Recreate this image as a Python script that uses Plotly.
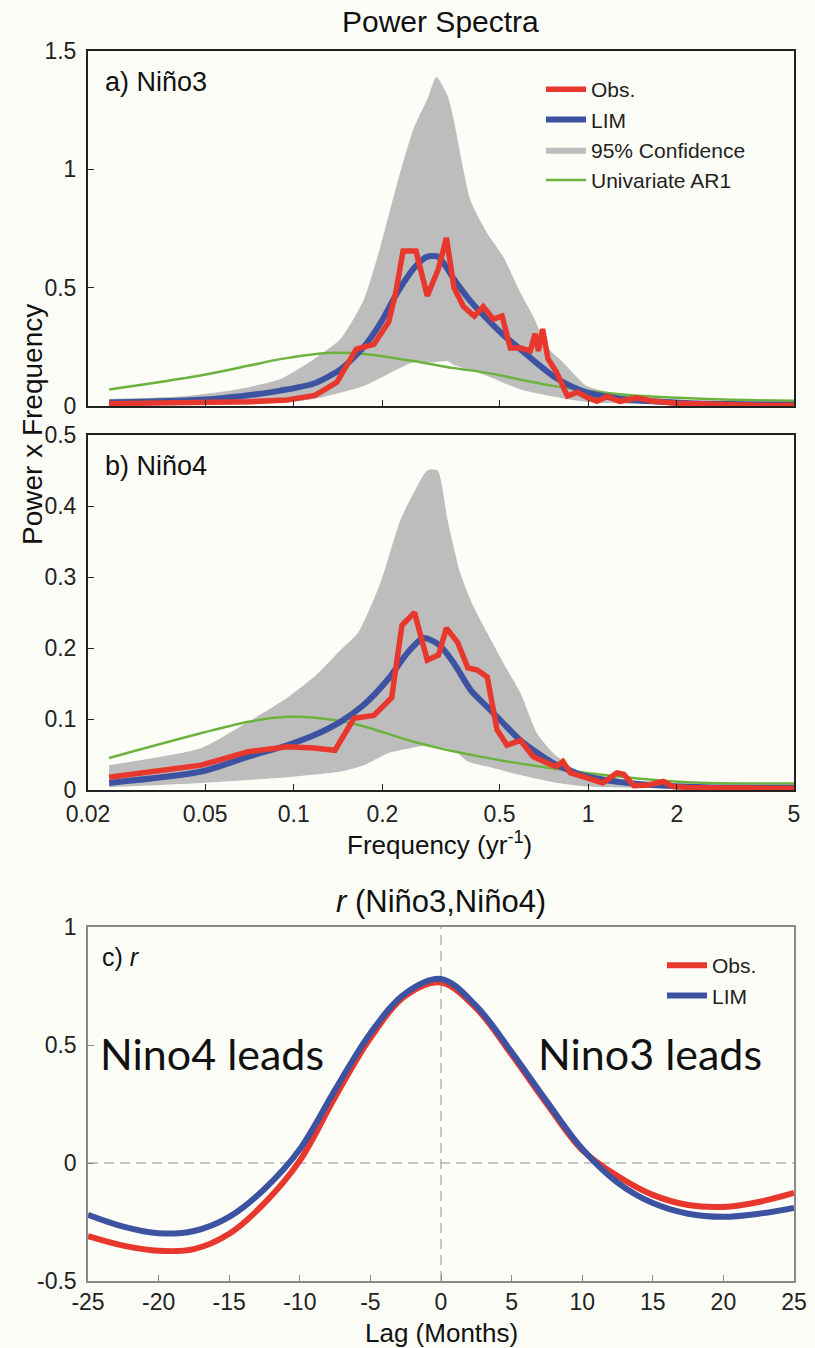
import plotly.graph_objects as go
import math

W, H = 815, 1348

# ---------------- data: panel a (Nino3) ----------------
A_OBS_F = [0.0236, 0.047, 0.07, 0.095, 0.118, 0.14, 0.163, 0.187, 0.21, 0.222, 0.235, 0.26, 0.284, 0.31,
           0.33, 0.35, 0.377, 0.41, 0.44, 0.476, 0.51, 0.544, 0.59, 0.636, 0.66, 0.677, 0.70, 0.73, 0.78,
           0.85, 0.92, 0.99, 1.07, 1.16, 1.28, 1.46, 1.66, 2.0, 2.5, 3.0, 3.5, 4.0, 5.0]
A_OBS_V = [0.01, 0.012, 0.018, 0.025, 0.045, 0.10, 0.24, 0.26, 0.355, 0.48, 0.655, 0.655, 0.465, 0.58,
           0.71, 0.50, 0.42, 0.38, 0.42, 0.367, 0.38, 0.245, 0.245, 0.233, 0.305, 0.233, 0.325, 0.20, 0.143,
           0.042, 0.058, 0.037, 0.02, 0.04, 0.02, 0.035, 0.02, 0.012, 0.008, 0.003, 0.005, 0.002, 0.003]

A_LIM_F = [0.0236, 0.035, 0.0535, 0.07, 0.09, 0.117, 0.144, 0.173, 0.197, 0.225, 0.255, 0.283, 0.31,
           0.348, 0.40, 0.454, 0.515, 0.588, 0.67, 0.76, 0.87, 1.0, 1.12, 1.3, 1.66, 2.2, 3.0, 4.0, 5.0]
A_LIM_V = [0.015, 0.02, 0.03, 0.045, 0.065, 0.095, 0.155, 0.25, 0.35, 0.48, 0.58, 0.63, 0.63,
           0.54, 0.44, 0.367, 0.30, 0.24, 0.18, 0.127, 0.085, 0.055, 0.042, 0.03, 0.02, 0.012, 0.008, 0.006, 0.005]

A_UP_F = [0.0236, 0.041, 0.061, 0.09, 0.117, 0.144, 0.173, 0.197, 0.225, 0.255, 0.285, 0.305, 0.333,
          0.348, 0.398, 0.454, 0.515, 0.588, 0.65, 0.725, 0.82, 0.99, 1.28, 1.66, 2.5, 3.5, 5.0]
A_UP_V = [0.03, 0.04, 0.065, 0.114, 0.198, 0.283, 0.45, 0.675, 0.945, 1.17, 1.30, 1.39, 1.31,
          1.22, 0.87, 0.73, 0.63, 0.48, 0.38, 0.25, 0.185, 0.085, 0.05, 0.03, 0.02, 0.015, 0.01]
A_LO_F = [0.0236, 0.05, 0.08, 0.117, 0.173, 0.225, 0.255, 0.30, 0.333, 0.348, 0.454, 0.588, 0.76, 0.99,
          1.5, 2.5, 5.0]
A_LO_V = [0.003, 0.005, 0.01, 0.03, 0.085, 0.155, 0.185, 0.185, 0.19, 0.175, 0.127, 0.07, 0.04, 0.017,
          0.008, 0.004, 0.002]

A_AR1_F = [0.0236, 0.047, 0.07, 0.09, 0.13, 0.173, 0.255, 0.35, 0.454, 0.76, 1.28, 2.2, 3.5, 5.0]
A_AR1_V = [0.07, 0.127, 0.17, 0.198, 0.224, 0.22, 0.19, 0.16, 0.14, 0.085, 0.05, 0.033, 0.025, 0.022]

# ---------------- data: panel b (Nino4) ----------------
B_OBS_F = [0.0236, 0.0485, 0.07, 0.095, 0.117, 0.138, 0.16, 0.187, 0.215, 0.233, 0.257, 0.284, 0.31,
           0.33, 0.36, 0.39, 0.42, 0.454, 0.49, 0.53, 0.588, 0.65, 0.725, 0.78, 0.82, 0.87, 0.99, 1.12,
           1.25, 1.32, 1.43, 1.6, 1.8, 1.94, 2.3, 3.0, 4.0, 5.0]
B_OBS_V = [0.018, 0.035, 0.054, 0.061, 0.059, 0.056, 0.101, 0.105, 0.13, 0.232, 0.25, 0.183, 0.19,
           0.228, 0.208, 0.172, 0.169, 0.159, 0.085, 0.063, 0.07, 0.047, 0.038, 0.033, 0.04, 0.024, 0.017,
           0.01, 0.024, 0.022, 0.006, 0.007, 0.012, 0.005, 0.003, 0.002, 0.002, 0.002]

B_LIM_F = [0.0236, 0.0485, 0.07, 0.095, 0.117, 0.144, 0.173, 0.21, 0.243, 0.276, 0.31, 0.348, 0.40,
           0.454, 0.515, 0.588, 0.76, 0.99, 1.3, 1.66, 2.5, 5.0]
B_LIM_V = [0.01, 0.026, 0.047, 0.063, 0.077, 0.096, 0.12, 0.157, 0.193, 0.214, 0.205, 0.18, 0.14,
           0.117, 0.094, 0.07, 0.038, 0.019, 0.011, 0.007, 0.004, 0.003]

B_UP_F = [0.0236, 0.0485, 0.07, 0.095, 0.117, 0.144, 0.165, 0.197, 0.23, 0.255, 0.284, 0.308, 0.333,
          0.368, 0.408, 0.454, 0.515, 0.588, 0.67, 0.76, 0.87, 0.99, 1.28, 2.0, 5.0]
B_UP_V = [0.035, 0.059, 0.096, 0.13, 0.159, 0.197, 0.221, 0.292, 0.38, 0.418, 0.45, 0.45, 0.38,
          0.305, 0.258, 0.221, 0.179, 0.137, 0.08, 0.052, 0.033, 0.021, 0.01, 0.005, 0.003]
B_LO_F = [0.0236, 0.0485, 0.095, 0.144, 0.173, 0.21, 0.25, 0.284, 0.35, 0.39, 0.454, 0.588, 0.76, 0.99,
          2.0, 5.0]
B_LO_V = [0.004, 0.01, 0.018, 0.026, 0.035, 0.052, 0.059, 0.063, 0.056, 0.04, 0.033, 0.021, 0.011, 0.005,
          0.002, 0.001]

B_AR1_F = [0.0236, 0.07, 0.095, 0.117, 0.165, 0.255, 0.43, 0.99, 2.17, 5.0]
B_AR1_V = [0.045, 0.096, 0.103, 0.102, 0.092, 0.068, 0.047, 0.024, 0.011, 0.009]

# ---------------- data: panel c (lag correlation) ----------------
LAGS = [-25, -22.5, -20, -17.5, -15, -12.5, -10, -7.5, -5, -2.5, 0, 2.5, 5, 7.5, 10, 12.5, 15, 17.5, 20, 22.5, 25]
C_OBS = [-0.31, -0.35, -0.372, -0.365, -0.30, -0.17, 0.01, 0.28, 0.53, 0.71, 0.765, 0.655, 0.46, 0.25,
         0.055, -0.055, -0.135, -0.178, -0.186, -0.165, -0.127]
C_LIM = [-0.22, -0.27, -0.298, -0.288, -0.228, -0.11, 0.058, 0.31, 0.55, 0.72, 0.78, 0.665, 0.47, 0.26,
         0.06, -0.083, -0.17, -0.215, -0.228, -0.215, -0.19]

FREQ_TICKS = [0.02, 0.05, 0.1, 0.2, 0.5, 1, 2, 5]
FREQ_TICK_LABELS = ["0.02", "0.05", "0.1", "0.2", "0.5", "1", "2", "5"]
A_YTICKS = [0, 0.5, 1, 1.5]
A_YTICK_LABELS = ["0", "0.5", "1", "1.5"]
B_YTICKS = [0, 0.1, 0.2, 0.3, 0.4, 0.5]
B_YTICK_LABELS = ["0", "0.1", "0.2", "0.3", "0.4", "0.5"]
LAG_TICKS = [-25, -20, -15, -10, -5, 0, 5, 10, 15, 20, 25]
LAG_TICK_LABELS = ["-25", "-20", "-15", "-10", "-5", "0", "5", "10", "15", "20", "25"]
C_YTICKS = [-0.5, 0, 0.5, 1]
C_YTICK_LABELS = ["-0.5", "0", "0.5", "1"]

# ---------------- styles ----------------
RED = "#e8372c"
BLUE = "#3d52a1"
GREEN = "#6cb33e"
GRAY = "#bdbdbd"
BG = "#fdfdf8"
FONT = "Liberation Sans, Arial, sans-serif"


def px(x, y):
    return x / W, 1 - y / H


fig = go.Figure()


def spectra_panel(xa, ya, up_f, up_v, lo_f, lo_v, ar_f, ar_v, lim_f, lim_v, obs_f, obs_v, show_leg):
    fig.add_trace(go.Scatter(x=lo_f, y=lo_v, xaxis=xa, yaxis=ya, mode="lines",
                             line=dict(width=0, color=GRAY, shape="spline", smoothing=0.6),
                             showlegend=False, hoverinfo="skip"))
    fig.add_trace(go.Scatter(x=up_f, y=up_v, xaxis=xa, yaxis=ya, mode="lines", fill="tonexty",
                             fillcolor=GRAY, line=dict(width=0, color=GRAY, shape="spline", smoothing=0.6),
                             name="95% Confidence", showlegend=show_leg, legend="legend", legendrank=3))
    fig.add_trace(go.Scatter(x=ar_f, y=ar_v, xaxis=xa, yaxis=ya, mode="lines",
                             line=dict(width=2.5, color=GREEN, shape="spline", smoothing=0.8),
                             name="Univariate AR1", showlegend=show_leg, legend="legend", legendrank=4))
    fig.add_trace(go.Scatter(x=lim_f, y=lim_v, xaxis=xa, yaxis=ya, mode="lines",
                             line=dict(width=6, color=BLUE, shape="spline", smoothing=0.7),
                             name="LIM", showlegend=show_leg, legend="legend", legendrank=2))
    fig.add_trace(go.Scatter(x=obs_f, y=obs_v, xaxis=xa, yaxis=ya, mode="lines",
                             line=dict(width=5.5, color=RED),
                             name="Obs.", showlegend=show_leg, legend="legend", legendrank=1))


spectra_panel("x", "y", A_UP_F, A_UP_V, A_LO_F, A_LO_V, A_AR1_F, A_AR1_V, A_LIM_F, A_LIM_V, A_OBS_F, A_OBS_V, True)
spectra_panel("x2", "y2", B_UP_F, B_UP_V, B_LO_F, B_LO_V, B_AR1_F, B_AR1_V, B_LIM_F, B_LIM_V, B_OBS_F, B_OBS_V, False)

fig.add_trace(go.Scatter(x=LAGS, y=C_OBS, xaxis="x3", yaxis="y3", mode="lines",
                         line=dict(width=6, color=RED, shape="spline", smoothing=1.0),
                         name="Obs.", legend="legend2", legendrank=1))
fig.add_trace(go.Scatter(x=LAGS, y=C_LIM, xaxis="x3", yaxis="y3", mode="lines",
                         line=dict(width=6, color=BLUE, shape="spline", smoothing=1.0),
                         name="LIM", legend="legend2", legendrank=2))

XDOM = [88 / W, 794 / W]
dark_axis = dict(showline=True, linecolor="#222", linewidth=2, mirror=True, ticks="inside", ticklen=6,
                 tickcolor="#222", tickwidth=1.2, showgrid=False, zeroline=False, automargin=False,
                 tickfont=dict(family=FONT, size=23, color="#222"))
gray_axis = dict(showline=True, linecolor="#8a8a8a", linewidth=1.5, mirror=True, ticks="inside", ticklen=6,
                 tickcolor="#8a8a8a", tickwidth=1.2, showgrid=False, zeroline=False, automargin=False,
                 tickfont=dict(family=FONT, size=23, color="#222"))

fig.update_layout(
    width=W, height=H, autosize=False,
    margin=dict(l=0, r=0, t=0, b=0, pad=0, autoexpand=False),
    paper_bgcolor=BG, plot_bgcolor=BG,
    xaxis=dict(dark_axis, type="log", domain=XDOM, range=[math.log10(0.02), math.log10(5)],
               tickvals=FREQ_TICKS, ticktext=FREQ_TICK_LABELS, showticklabels=False, anchor="y"),
    yaxis=dict(dark_axis, domain=[1 - 406 / H, 1 - 51 / H], range=[0, 1.5], tickvals=A_YTICKS,
               ticktext=A_YTICK_LABELS, anchor="x", ticklabelstandoff=5),
    xaxis2=dict(dark_axis, type="log", domain=XDOM, range=[math.log10(0.02), math.log10(5)],
                tickvals=FREQ_TICKS, ticktext=FREQ_TICK_LABELS, anchor="y2", ticklabelstandoff=2),
    yaxis2=dict(dark_axis, domain=[1 - 790 / H, 1 - 435 / H], range=[0, 0.5], tickvals=B_YTICKS,
                ticktext=B_YTICK_LABELS, anchor="x2", ticklabelstandoff=5),
    xaxis3=dict(gray_axis, domain=XDOM, range=[-25, 25], tickvals=LAG_TICKS, ticktext=LAG_TICK_LABELS,
                anchor="y3", ticklabelstandoff=0),
    yaxis3=dict(gray_axis, domain=[1 - 1281 / H, 1 - 927 / H], range=[-0.5, 1], tickvals=C_YTICKS,
                ticktext=C_YTICK_LABELS, anchor="x3", ticklabelstandoff=5),
    legend=dict(x=px(541, 0)[0], y=px(0, 69)[1], xanchor="left", yanchor="top",
                bgcolor="rgba(0,0,0,0)", font=dict(family=FONT, size=21, color="#222"),
                traceorder="normal", itemwidth=40, tracegroupgap=0),
    legend2=dict(x=px(662, 0)[0], y=px(0, 945)[1], xanchor="left", yanchor="top",
                 bgcolor="rgba(0,0,0,0)", font=dict(family=FONT, size=21, color="#222"),
                 traceorder="normal", itemwidth=40),
    showlegend=True,
)

# dashed reference lines in panel c
fig.add_shape(type="line", xref="x3 domain", x0=0, x1=1, yref="y3", y0=0, y1=0,
              line=dict(color="#b5b5b5", width=1.5, dash="10px,6px"), layer="below")
fig.add_shape(type="line", xref="x3", x0=0, x1=0, yref="y3 domain", y0=0, y1=1,
              line=dict(color="#b5b5b5", width=1.5, dash="10px,6px"), layer="below")

ann = []


def text(x, y, s, size, xanchor="center", family=FONT, angle=0):
    xx, yy = px(x, y)
    ann.append(dict(x=xx, y=yy, xref="paper", yref="paper", text=s, showarrow=False, xanchor=xanchor,
                    yanchor="middle", textangle=angle, font=dict(family=family, size=size, color="#111")))


text(440, 22, "Power Spectra", 30)
text(103, 82, "a) Niño3", 27, "left")
text(103, 466, "b) Niño4", 27, "left")
text(32, 425, "Power x Frequency", 28, angle=-90)
text(439, 843, "Frequency (yr<sup>-1</sup>)", 26)
text(441, 902, "<i>r</i> (Niño3,Niño4)", 31)
text(100, 957, "c) <i>r</i>", 25, "left")
text(441, 1333, "Lag (Months)", 26)
text(98, 1053, "Nino4 leads", 43, "left", family="Lato, Carlito, sans-serif")
text(536, 1053, "Nino3 leads", 43, "left", family="Lato, Carlito, sans-serif")
fig.update_layout(annotations=ann)

fig.write_html("out.html")
